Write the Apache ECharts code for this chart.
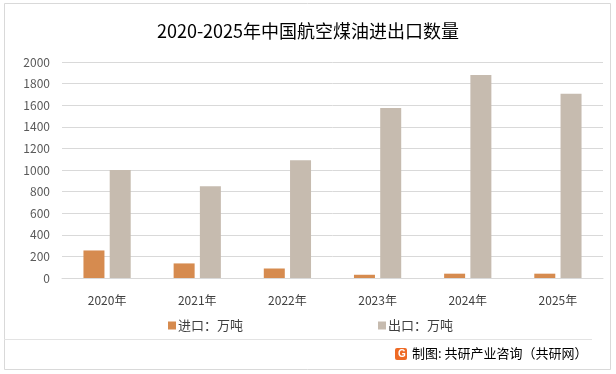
<!DOCTYPE html>
<html><head><meta charset="utf-8">
<script src="https://cdn.jsdelivr.net/npm/echarts@6/dist/echarts.min.js"></script>
<style>html,body{margin:0;padding:0;background:#fff}#c{width:616px;height:374px}</style>
</head><body><div id="c"></div>
<script>
var categories = ['2020年','2021年','2022年','2023年','2024年','2025年'];
var importValues = [255, 135, 88, 30, 40, 40];
var exportValues = [1000, 850, 1090, 1575, 1880, 1705];
var yTicks = [0, 200, 400, 600, 800, 1000, 1200, 1400, 1600, 1800, 2000];
var seriesNames = ['进口：万吨', '出口：万吨'];
var titleText = '2020-2025年中国航空煤油进出口数量';
var sourceText = '制图: 共研产业咨询（共研网）';

var font = '"Microsoft YaHei","Noto Sans CJK SC",sans-serif';
var chart = echarts.init(document.getElementById('c'), null, {renderer: 'canvas'});
chart.setOption({
  backgroundColor: '#fff',
  animation: false,
  title: {
    text: titleText, left: 'center', top: 17,
    textStyle: {fontSize: 18, fontWeight: 'normal', color: '#000', fontFamily: font}
  },
  grid: {left: 62, right: 13, top: 62, bottom: 96, containLabel: false},
  legend: {
    data: [{name: seriesNames[0]}, {name: seriesNames[1]}],
    top: 314, left: 163, itemGap: 135,
    itemWidth: 8, itemHeight: 8, icon: 'rect',
    textStyle: {fontSize: 13, color: '#404040', fontFamily: font, padding: [0,0,0,-3]}
  },
  xAxis: {
    type: 'category', data: categories,
    axisLine: {lineStyle: {color: '#d9d9d9'}},
    axisTick: {show: false},
    axisLabel: {color: '#404040', fontSize: 12, margin: 16, fontFamily: font}
  },
  yAxis: {
    type: 'value', min: yTicks[0], max: yTicks[yTicks.length-1], interval: 200,
    axisLine: {show: false}, axisTick: {show: false},
    splitLine: {lineStyle: {color: '#d9d9d9', width: 1}},
    axisLabel: {color: '#595959', fontSize: 12, margin: 12, fontFamily: font,
      formatter: function (v) { return String(v); }}
  },
  series: [
    {name: seriesNames[0], type: 'bar', data: importValues, barWidth: 21, barGap: '25%',
     itemStyle: {color: '#D68B4F'}},
    {name: seriesNames[1], type: 'bar', data: exportValues, barWidth: 21,
     itemStyle: {color: '#C6BBAF'}}
  ],
  graphic: [
    {type: 'rect', shape: {x: 4.5, y: 3.5, width: 606, height: 366},
     style: {fill: 'none', stroke: '#d9d9d9', lineWidth: 1}, silent: true, z: -1},
    {type: 'line', shape: {x1: 4, y1: 339.5, x2: 592, y2: 339.5},
     style: {stroke: '#e3e3e3', lineWidth: 1}, silent: true},
    {type: 'rect', shape: {x: 395, y: 348, width: 12, height: 12, r: 2},
     style: {fill: '#EE6A25'}, silent: true},
    {type: 'text', left: 398, top: 349,
     style: {text: 'G', fill: '#fff', font: 'bold 10px sans-serif'}, silent: true},
    {type: 'text', left: 412, top: 347,
     style: {text: sourceText, fill: '#000', font: '13px ' + font}, silent: true}
  ]
});
</script></body></html>
